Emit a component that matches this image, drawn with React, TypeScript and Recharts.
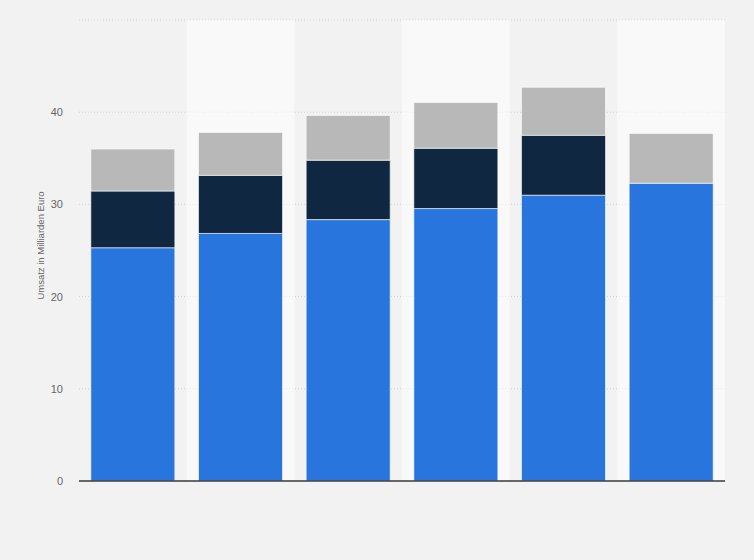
import { Bar, BarChart, CartesianGrid, ReferenceArea, XAxis, YAxis } from 'recharts';

// categories (no axis labels shown in the chart)
const categories = ['1', '2', '3', '4', '5', '6'];
// stacked segments, Mrd. Euro
const base = [25.3, 26.85, 28.35, 29.55, 31.0, 32.3];
const middle = [6.15, 6.3, 6.45, 6.55, 6.5, 0];
const top = [4.55, 4.65, 4.85, 4.95, 5.2, 5.4];
const yTicks = [0, 10, 20, 30, 40, 50];

const data = categories.map((name, i) => ({
    name,
    base: base[i],
    middle: middle[i],
    top: top[i],
}));

const shaded = categories.filter((_, i) => i % 2 === 1);

const App = () => {
    return (
        <div style={{ position: 'fixed', left: 0, top: 0, width: 754, height: 560, background: '#f2f2f2' }}>
            <BarChart
                width={754}
                height={560}
                data={data}
                margin={{ top: 20, right: 29, bottom: 49, left: 0 }}
                barCategoryGap="11%"
            >
                {shaded.map((c) => (
                    <ReferenceArea key={c} x1={c} x2={c} fill="#ffffff" fillOpacity={0.5} stroke="none" />
                ))}
                <CartesianGrid vertical={false} stroke="#d2d2d2" strokeDasharray="1 2" />
                <XAxis
                    dataKey="name"
                    tick={false}
                    tickLine={false}
                    axisLine={{ stroke: '#3a3a3a', strokeWidth: 1.5 }}
                    height={30}
                />
                <YAxis
                    width={79}
                    domain={[0, 50]}
                    ticks={yTicks}
                    interval={0}
                    tickFormatter={(v) => (v === 50 ? '' : String(v))}
                    axisLine={false}
                    tickLine={false}
                    tickMargin={10}
                    tick={{ fill: '#666666', fontSize: 11, fontFamily: 'Liberation Sans, Arial, sans-serif' }}
                    label={{
                        value: 'Umsatz in Milliarden Euro',
                        angle: -90,
                        position: 'center',
                        dx: 1,
                        dy: -5,
                        fill: '#666666',
                        fontSize: 9.5,
                        fontFamily: 'Liberation Sans, Arial, sans-serif',
                    }}
                />
                <Bar dataKey="base" stackId="a" fill="#2876dd" stroke="#ffffff" strokeOpacity={0.6} isAnimationActive={false} />
                <Bar dataKey="middle" stackId="a" fill="#0f2740" stroke="#ffffff" strokeOpacity={0.6} isAnimationActive={false} />
                <Bar dataKey="top" stackId="a" fill="#b8b8b8" stroke="#ffffff" strokeOpacity={0.6} isAnimationActive={false} />
            </BarChart>
        </div>
    );
};

export default App;
